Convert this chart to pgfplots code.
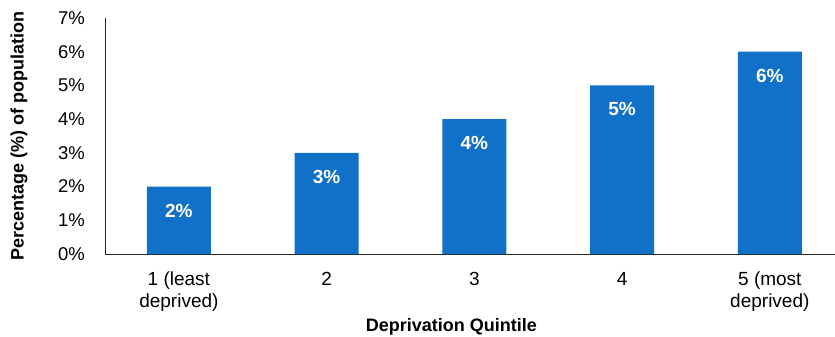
\documentclass[border=0pt]{standalone}
\usepackage{fontspec}
\setmainfont{Liberation Sans}
\usepackage{pgfplots}
\pgfplotsset{compat=1.18}
\definecolor{barblue}{RGB}{17,112,199}
\begin{document}
\begin{tikzpicture}
\useasboundingbox (-105pt,-83pt) rectangle (730pt,254pt);
\begin{axis}[
  scale only axis,
  width=730pt, height=236pt,
  xmin=-0.5, xmax=4.441,
  ymin=0, ymax=7,
  axis x line*=bottom, axis y line*=left,
  axis line style={black!85, line width=0.8pt},
  major tick length=0pt,
  xtick={0,1,2,3,4},
  xticklabels={{1 (least\\deprived)},2,3,4,{5 (most\\deprived)}},
  xticklabel style={align=center, anchor=north, inner sep=0pt, yshift=-18pt,
    font=\fontsize{19}{22}\selectfont},
  ytick={0,1,2,3,4,5,6,7},
  yticklabels={0\%,1\%,2\%,3\%,4\%,5\%,6\%,7\%},
  yticklabel style={anchor=east, inner sep=0pt, xshift=-20pt,
    font=\fontsize{18.5}{22}\selectfont},
  ylabel={Percentage (\%) of population},
  ylabel style={at={(axis description cs:-0.1178,0.5)}, anchor=center,
    font=\bfseries\fontsize{18}{21}\selectfont},
  xlabel={Deprivation Quintile},
  xlabel style={at={(axis description cs:0.4745,-0.3285)}, anchor=base,
    font=\bfseries\fontsize{18}{21}\selectfont},
  /pgf/number format/assume math mode=true,
  clip=false,
]
\addplot[ybar, bar width=0.433, fill=barblue, draw=none,
  nodes near coords={\pgfmathprintnumber{\pgfplotspointmeta}\%},
  every node near coord/.append style={anchor=north, inner sep=0pt, yshift=-17pt,
    text=white, font=\bfseries\fontsize{19}{22}\selectfont}]
  coordinates {(0,2) (1,3) (2,4) (3,5) (4,6)};
\end{axis}
\end{tikzpicture}
\end{document}
